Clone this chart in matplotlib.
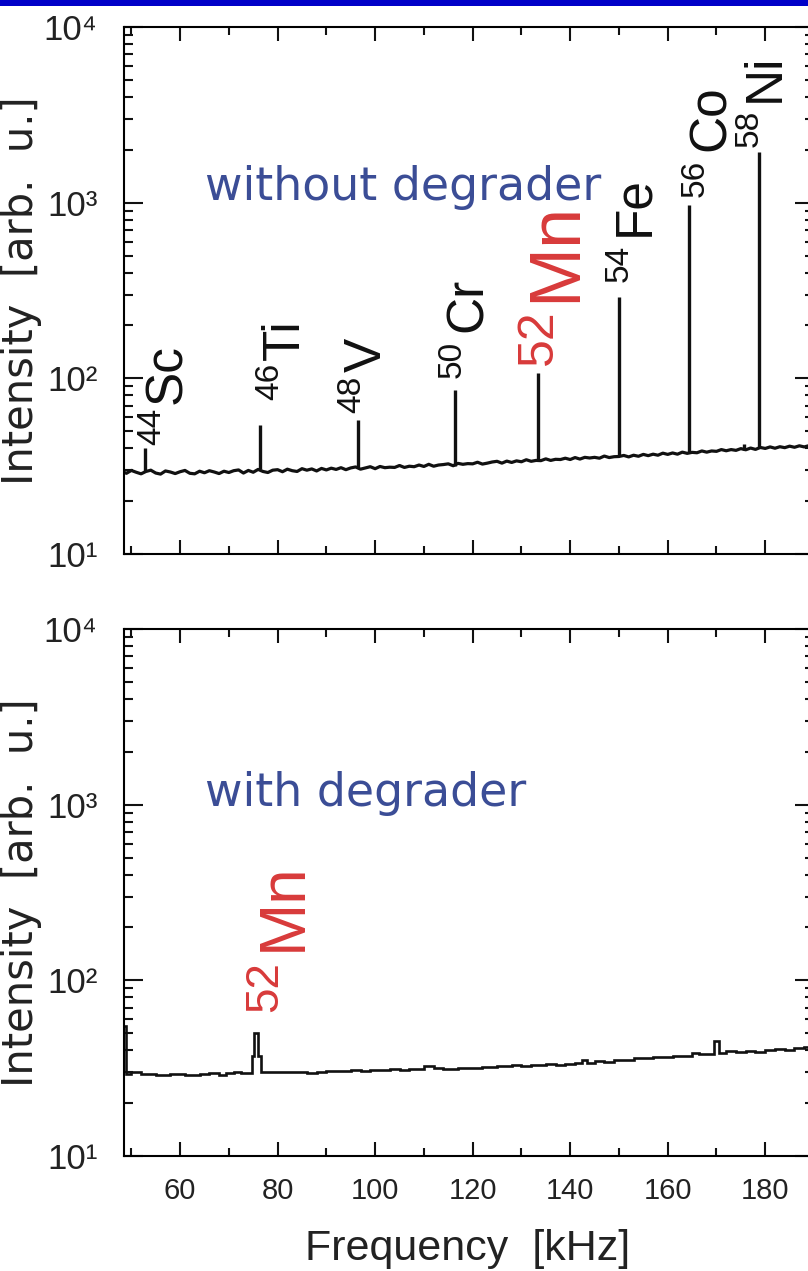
import numpy as np
import matplotlib
matplotlib.use("Agg")
import matplotlib.pyplot as plt
from matplotlib import font_manager
from matplotlib.patches import Rectangle
from matplotlib.ticker import MultipleLocator, LogLocator, NullFormatter

# ---------------- data ----------------
# Spectrum without degrader: background sampled every 1 kHz from 48 kHz
top_start = 48
top_background = [
    29.6, 28.8, 29.9, 29.2, 28.6, 29.5, 30.0, 28.9, 28.5, 29.7, 29.3, 28.7,
    29.4, 29.9, 28.8, 28.6, 29.6, 29.0, 29.8, 29.3, 28.7, 29.6,
    29.1, 29.8, 30.1, 28.9, 29.9, 29.2, 30.3, 29.5, 29.1, 30.0,
    30.2, 29.4, 30.4, 29.8, 29.5, 30.6, 30.0, 30.5, 29.7, 30.7,
    30.1, 30.8, 30.3, 31.0, 30.2, 30.9, 31.3, 30.4, 30.9, 31.4,
    30.6, 31.5, 31.0, 31.2, 31.1, 31.9, 31.1, 31.6, 31.4, 32.1,
    31.5, 32.4, 31.6, 32.1, 32.3, 32.6, 31.8, 32.8, 32.4, 32.7,
    32.6, 33.3, 32.5, 32.9, 33.4, 33.7, 32.9, 33.8, 33.2, 33.9,
    33.5, 34.4, 33.7, 34.1, 34.0, 34.8, 34.1, 34.6, 34.5, 35.1,
    34.5, 35.4, 34.7, 35.5, 35.2, 35.5, 35.1, 36.1, 35.4, 35.8,
    35.9, 36.4, 35.7, 36.5, 36.0, 36.9, 36.3, 37.0, 36.5, 37.5,
    36.9, 37.6, 37.0, 38.0, 37.4, 37.9, 37.7, 38.6, 38.0, 38.6,
    38.4, 39.3, 38.7, 39.3, 38.9, 39.8, 39.2, 40.1, 39.4, 40.4,
    39.9, 40.7, 40.0, 40.8, 40.3, 41.1, 40.5, 41.3, 40.7, 41.4, 41.0,
]

# Resonance lines (kHz) and their peak intensities
peak_freq = [52.8, 76.4, 96.5, 116.3, 133.3, 150.1, 164.4, 175.7, 178.8]
peak_height = [40, 54, 58, 86, 107, 290, 970, 42.5, 1945]

# Isotope labels: mass number, element, line they mark
label_mass = ["44", "46", "48", "50", "52", "54", "56", "58"]
label_elem = ["Sc", "Ti", "V", "Cr", "Mn", "Fe", "Co", "Ni"]
label_freq = [52.8, 76.4, 96.5, 116.3, 133.3, 150.1, 164.4, 178.8]
label_level = [40, 54, 58, 86, 107, 290, 970, 1945]

# Spectrum with degrader: histogram, bin edges (kHz) and levels
bottom_edges = [
    48.5, 48.9, 50.0, 52.0, 55.0, 58.0, 61.0, 64.0, 66.0, 68.0, 69.5,
    71.0, 72.5, 74.7, 75.1, 76.0, 76.5, 79.0, 81.0, 83.0, 86.0, 88.0,
    90.0, 92.0, 95.0, 97.0, 99.0, 101.0, 103.0, 105.0, 107.0, 110.0,
    112.0, 114.0, 117.0, 119.0, 122.0, 125.0, 128.0, 130.0, 132.0,
    135.0, 137.0, 139.0, 141.0, 142.5, 143.5, 145.0, 147.0, 149.0,
    151.0, 153.0, 155.0, 157.0, 159.0, 161.0, 163.0, 165.0, 166.5,
    169.5, 170.5, 172.0, 174.0, 176.0, 178.0, 180.0, 182.0, 184.0,
    186.0, 188.0, 190.0,
]
bottom_levels = [
    55.0, 29.4, 30.0, 29.4, 29.1, 29.3, 29.0, 29.2, 29.5, 28.8, 29.6,
    29.9, 29.7, 37.0, 50.0, 37.0, 29.9, 30.1, 29.9, 30.2, 29.8,
    30.0, 30.6, 30.5, 30.8, 30.6, 31.0, 30.8, 31.3, 31.0, 31.2,
    32.5, 31.6, 31.4, 31.8, 31.5, 32.0, 32.4, 32.8, 32.5,
    33.0, 33.4, 33.1, 33.6, 33.9, 35.0, 34.0, 34.6, 34.3,
    35.0, 35.4, 35.9, 36.2, 36.6, 36.8, 37.0, 37.3, 38.6,
    38.0, 45.0, 38.8, 39.4, 39.0, 39.6, 39.3, 40.0, 40.4,
    40.1, 41.2, 41.6,
]
mn_line_freq, mn_line_level = 75.55, 50.0

x_major = 20
x_minor = 10
ytick_values = [1e1, 1e2, 1e3, 1e4]
ytick_labels = ["10\u00b9", "10\u00b2", "10\u00b3", "10\u2074"]

# ---------------- style ----------------
names = {f.name for f in font_manager.fontManager.ttflist}
NARROW = "Liberation Sans"
for cand in ["Liberation Sans Narrow", "Liberation Sans"]:
    if cand in names:
        NARROW = cand
        break
NARROW_LIST = [NARROW, "DejaVu Sans"]

BLUE_TEXT = "#3b4d96"
RED_TEXT = "#d83a3a"
INK = "#111111"

W, H = 808, 1271
fig = plt.figure(figsize=(W / 100, H / 100), dpi=100)


def fx(px):
    return px / W


def fy(py):
    return 1 - py / H


# title bar across the top
fig.patches.append(Rectangle((0, fy(6)), 1, 6 / H, transform=fig.transFigure,
                             facecolor="#0000c8", edgecolor="none"))

ax_left, ax_right = 124, 814
ax_top = fig.add_axes([fx(ax_left), fy(554), (ax_right - ax_left) / W, 527 / H])
ax_bot = fig.add_axes([fx(ax_left), fy(1156), (ax_right - ax_left) / W, 527 / H])


def style_axes(ax, show_x_labels):
    ax.set_yscale("log")
    ax.set_xlim(48.5, 190)
    ax.set_ylim(10, 1e4)
    ax.xaxis.set_major_locator(MultipleLocator(x_major))
    ax.xaxis.set_minor_locator(MultipleLocator(x_minor))
    ax.yaxis.set_minor_locator(LogLocator(base=10, subs=np.arange(2, 10)))
    ax.yaxis.set_minor_formatter(NullFormatter())
    ax.set_yticks(ytick_values, ytick_labels)
    for s in ax.spines.values():
        s.set_linewidth(1.5)
    ax.tick_params(which="both", direction="in", top=True, right=True,
                   width=1.5, color=INK)
    ax.tick_params(axis="y", which="major", length=13.5, pad=19,
                   labelsize=25, labelfontfamily=NARROW_LIST, labelcolor="#222222")
    ax.tick_params(axis="y", which="minor", length=6.5)
    ax.tick_params(axis="x", which="major", length=10, pad=15,
                   labelsize=21, labelfontfamily=NARROW_LIST, labelcolor="#222222",
                   labelbottom=show_x_labels)
    ax.tick_params(axis="x", which="minor", length=6)
    ax.set_ylabel("Intensity  [arb.  u.]", fontsize=30, family="DejaVu Sans",
                  color="#222222")
    ax.yaxis.set_label_coords((42 - ax_left) / (ax_right - ax_left), 0.5)


style_axes(ax_top, False)
style_axes(ax_bot, True)


def isotope_label(ax, f, h, mass, elem, mass_off, raise_px, gap_px, sizes, color):
    """Rotated label: mass number as a superscript, then the element symbol."""
    ms, es = sizes
    common = dict(rotation=90, rotation_mode="anchor", ha="left",
                  va="baseline", family=NARROW_LIST, color=color)
    t = ax.annotate(mass, xy=(f, h), xycoords="data", xytext=mass_off,
                    textcoords="offset pixels", fontsize=ms, **common)
    ax.annotate(elem, xy=(1, 1), xycoords=t, xytext=(raise_px, gap_px),
                textcoords="offset pixels", fontsize=es, **common)


# ---- upper spectrum ----
top_freq = top_start + np.arange(len(top_background))
ax_top.plot(top_freq, top_background, color=INK, lw=2.3)
base_at_peak = [top_background[int(round(f)) - top_start] for f in peak_freq]
ax_top.vlines(peak_freq, base_at_peak, peak_height, color=INK, lw=2.4)

# position of each mass number relative to the top of its line (pixels),
# and the space left before the element symbol
mass_off = [(15, 3), (18, 25), (2, 7), (6, 12), (14, 8), (8, 15), (15, 8), (-2, 5)]
elem_gap = [4, 3, 4, 9, 8, 9, 9, 8]

for f, h, m, e, mo, g in zip(label_freq, label_level, label_mass, label_elem,
                             mass_off, elem_gap):
    if e == "Mn":
        isotope_label(ax_top, f, h, m, e, mo, 14, g, (36, 52), RED_TEXT)
    else:
        isotope_label(ax_top, f, h, m, e, mo, 14, g, (24, 37), INK)

# ---- lower spectrum ----
ax_bot.stairs(bottom_levels, bottom_edges, color=INK, lw=1.9, baseline=None)
isotope_label(ax_bot, mn_line_freq, mn_line_level, "52", "Mn", (21, 21), 14, 10,
              (33, 46), RED_TEXT)

# panel captions
fig.text(fx(205), fy(200), "without degrader", fontsize=33, color=BLUE_TEXT,
         family="DejaVu Sans", va="baseline", ha="left")
fig.text(fx(205), fy(806), "with degrader", fontsize=33, color=BLUE_TEXT,
         family="DejaVu Sans", va="baseline", ha="left")

fig.text(fx(468), fy(1260), "Frequency  [kHz]", fontsize=31, color="#222222",
         family=NARROW_LIST, va="baseline", ha="center")

fig.savefig("out.png", dpi=100)
